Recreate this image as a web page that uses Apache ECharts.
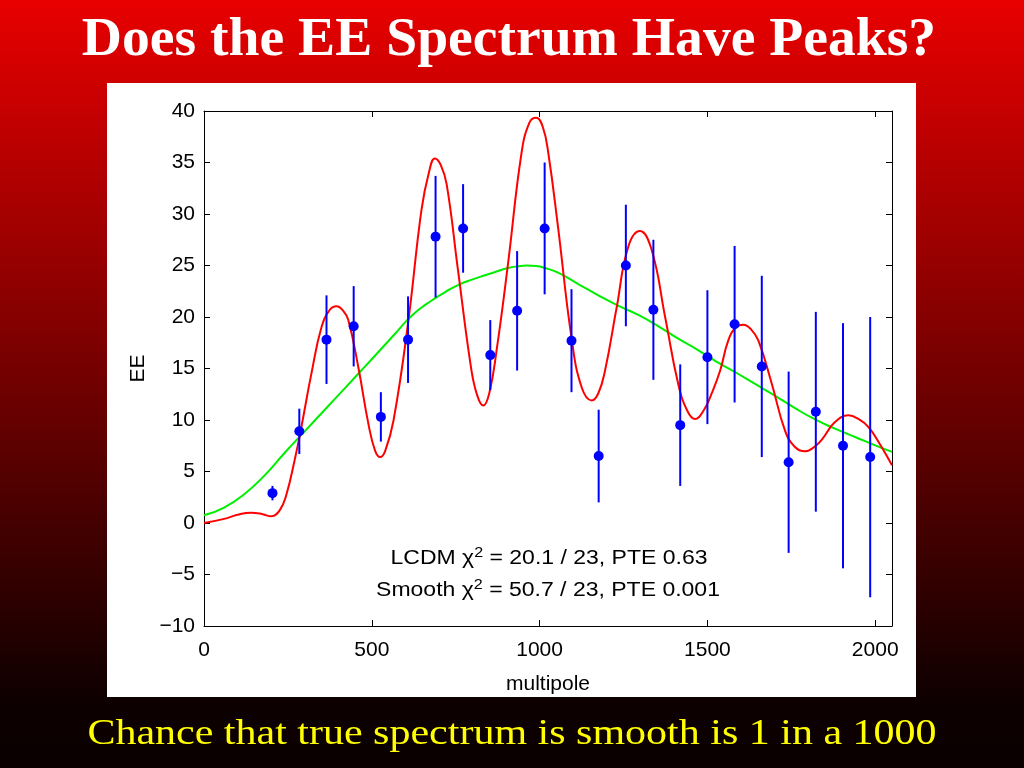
<!DOCTYPE html>
<html>
<head>
<meta charset="utf-8">
<script src="https://cdn.jsdelivr.net/npm/echarts@6/dist/echarts.min.js"></script>
<style>
html,body{margin:0;padding:0;width:1024px;height:768px;overflow:hidden;
background:linear-gradient(to bottom,#e80000 0px,#0e0000 700px,#0a0000 768px);}
#chart{width:1024px;height:768px;}
</style>
</head>
<body>
<div id="chart"></div>
<script>
// ---- data ----
var titleText = 'Does the EE Spectrum Have Peaks?';
var subtitleText = 'Chance that true spectrum is smooth is 1 in a 1000';
var xName = 'multipole';
var yName = 'EE';

// band-power data points (multipole, EE, 1-sigma error)
var ell = [204,284,365,446,527,608,690,772,853,933,1015,1095,1176,1257,1339,1419,1500,1581,1662,1742,1823,1904,1985];
var ee  = [2.9,8.9,17.8,19.1,10.3,17.8,27.8,28.6,16.3,20.6,28.6,17.7,6.5,25.0,20.7,9.5,16.1,19.3,15.2,5.9,10.8,7.5,6.4];
var err = [0.7,2.2,4.3,3.9,2.4,4.2,5.9,4.3,3.4,5.8,6.4,5.0,4.5,5.9,6.8,5.9,6.5,7.6,8.8,8.8,9.7,11.9,13.6];

// LCDM model curve (red)
var lcdmX = [0,60,100,140,175,200,225,245,270,290,320,350,375,395,415,430,460,490,510,525,540,565,608,648,670,688,705,723,757,797,815,832,850,872,906,946,970,990,1010,1026,1055,1095,1125,1155,1175,1195,1230,1264,1299,1334,1374,1413,1440,1463,1490,1513,1538,1562,1585,1607,1630,1652,1692,1731,1760,1791,1815,1841,1880,1920,1950,1980,2015,2050];
var lcdmY = [0.0,0.4,0.8,1.0,0.85,0.65,1.2,2.7,6.1,9.3,14.5,19.0,20.7,21.05,20.6,19.7,15.1,9.6,7.0,6.4,7.0,10.0,19.4,30.4,34.0,35.4,34.8,32.9,24.5,14.8,12.3,11.4,12.6,16.8,25.2,35.9,38.9,39.35,38.4,35.9,28.7,18.0,13.2,11.9,12.6,14.8,21.0,26.8,28.35,26.5,20.0,13.5,10.9,10.1,11.0,12.6,14.8,17.7,19.0,19.25,18.8,17.7,13.5,9.0,7.4,6.96,7.3,8.1,9.8,10.45,10.1,9.3,7.6,5.6];

// smooth model curve (green)
var smoothX = [0,60,120,180,240,300,360,420,480,525,570,600,628,660,688,720,757,800,837,870,906,935,961,990,1016,1055,1115,1175,1234,1294,1354,1413,1473,1523,1582,1642,1702,1761,1821,1880,1940,2000,2050];
var smoothY = [0.75,1.5,2.8,4.6,6.8,8.9,11.0,13.1,15.2,16.8,18.4,19.5,20.4,21.2,21.8,22.45,23.1,23.65,24.05,24.4,24.75,24.92,25.0,24.95,24.76,24.3,23.2,22.1,21.1,20.2,19.1,17.9,16.77,15.75,14.66,13.5,12.35,11.15,10.05,9.16,8.35,7.54,6.9];

var xTicks = {min:0, max:2050, interval:500};
var yTicks = {min:-10, max:40, interval:5};

var lcdmLabel = ['LCDM \u03c7', '2', ' = 20.1 / 23, PTE 0.63'];
var smoothLabel = ['Smooth \u03c7', '2', ' = 50.7 / 23, PTE 0.001'];

// ---- chart ----
function zip(a,b){return a.map(function(v,i){return [v,b[i]];});}
var sans = 'Liberation Sans, Arial, Helvetica, sans-serif';
var serif = 'Liberation Serif, Times New Roman, serif';

function boxAxis(kind, pos, show){
  var t = kind==='x'?xTicks:yTicks;
  return {
    type:'value', position:pos, min:t.min, max:t.max, interval:t.interval,
    name: show ? (kind==='x'?xName:yName) : '',
    nameLocation:'middle',
    nameGap: kind==='x'?48:49,
    nameTextStyle:{color:'#000', fontSize:21, fontFamily:sans},
    axisLine:{show:true, onZero:false, lineStyle:{color:'#000', width:1}},
    axisTick:{show:true, inside:true, length:6, lineStyle:{color:'#000', width:1}},
    splitLine:{show:false},
    axisLabel:{show:show, color:'#000', fontSize:21, fontFamily:sans,
      margin: kind==='x'?14:9,
      formatter:function(v){
        if (kind==='x' && v % 500 !== 0) return '';
        return String(v).replace('-', '\u2212');
      }}
  };
}

var chart = echarts.init(document.getElementById('chart'), null, {renderer:'canvas'});
var richStyle = {
  a:{fontSize:20, fontFamily:sans, fill:'#000', color:'#000', lineHeight:24},
  s:{fontSize:14, fontFamily:sans, fill:'#000', color:'#000', lineHeight:8, verticalAlign:'top'}
};
function richText(parts){return '{a|'+parts[0]+'}{s|'+parts[1]+'}{a|'+parts[2]+'}';}

chart.setOption({
  backgroundColor:'transparent',
  animation:false,
  grid:{left:204, top:111, width:688, height:515, containLabel:false},
  xAxis:[boxAxis('x','bottom',true), boxAxis('x','top',false)],
  yAxis:[boxAxis('y','left',true), boxAxis('y','right',false)],
  graphic:[
    {type:'rect', z:-100, silent:true, shape:{x:107, y:83, width:809, height:614}, style:{fill:'#ffffff'}},
    {type:'text', x:509, y:41, scaleX:1.03, z:10,
      style:{text:titleText, fontSize:54, fontWeight:'bold', fontFamily:serif, fill:'#ffffff', align:'center', verticalAlign:'middle'}},
    {type:'text', x:512, y:735, scaleX:1.2, z:10,
      style:{text:subtitleText, fontSize:35, fontFamily:serif, fill:'#ffff00', align:'center', verticalAlign:'middle'}},
    {type:'text', x:549, y:558, scaleX:1.15, z:10,
      style:{text:richText(lcdmLabel), rich:richStyle, align:'center', verticalAlign:'middle'}},
    {type:'text', x:548, y:590, scaleX:1.15, z:10,
      style:{text:richText(smoothLabel), rich:richStyle, align:'center', verticalAlign:'middle'}}
  ],
  series:[
    {type:'line', name:'Smooth', data:zip(smoothX,smoothY), smooth:0.5, showSymbol:false,
      lineStyle:{color:'#00ee00', width:2}, z:2},
    {type:'line', name:'LCDM', data:zip(lcdmX,lcdmY), smooth:0.45, showSymbol:false,
      lineStyle:{color:'#ff0000', width:2}, z:3},
    {type:'custom', name:'errors', z:4,
      data: ell.map(function(l,i){return [l, ee[i], err[i]];}),
      encode:{x:0, y:1},
      renderItem:function(params, api){
        var x=api.value(0), y=api.value(1), e=api.value(2);
        var p1=api.coord([x,y+e]), p2=api.coord([x,y-e]);
        return {type:'line', shape:{x1:p1[0],y1:p1[1],x2:p2[0],y2:p2[1]},
          style:{stroke:'#0000ff', lineWidth:2}};
      }},
    {type:'scatter', name:'data', z:5, data:zip(ell,ee), symbol:'circle', symbolSize:10,
      itemStyle:{color:'#0000ff', opacity:1}}
  ]
});
</script>
</body>
</html>
